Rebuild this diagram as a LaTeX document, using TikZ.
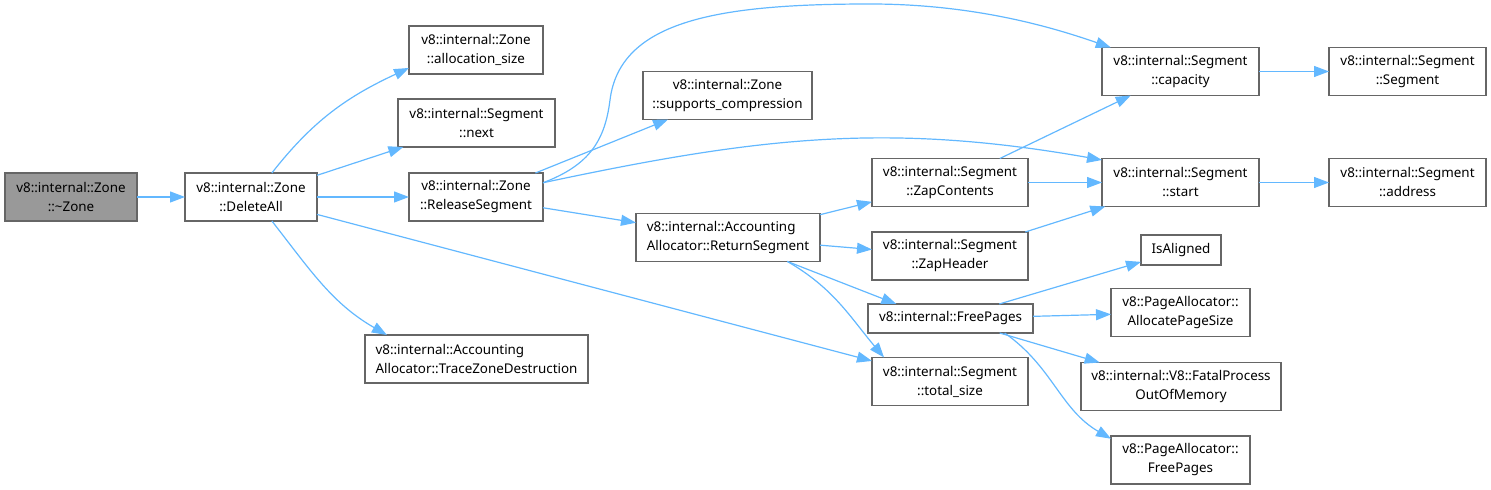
\documentclass[tikz,border=0pt]{standalone}
\usepackage{fontspec}
\setmainfont{Noto Sans}
\usepackage{xcolor}
\usepackage{tikz}
\usetikzlibrary{arrows.meta}
\definecolor{edgeblue}{HTML}{63B8FF}
\definecolor{boxline}{HTML}{666666}
\definecolor{rootfill}{HTML}{999999}
\begin{document}
\begin{tikzpicture}[x=0.5pt,y=-0.5pt,inner sep=1pt,outer sep=0pt,
  fn/.style={draw=boxline,line width=0.75pt,fill=white,align=center,font=\fontsize{6.7}{9.5}\selectfont,minimum height=24pt},
  fnl/.style={fn,align=left},
  call/.style={draw=edgeblue,line width=0.6pt,-{Triangle[length=7.5pt,width=5.5pt]}}]
\useasboundingbox (0,0) rectangle (1491,490);
\node[fn,fill=rootfill,minimum width=66pt] (zone) at (71,197) {v8::internal::Zone\\::\textasciitilde Zone};
\node[fn,minimum width=66pt] (deleteall) at (251,197) {v8::internal::Zone\\::DeleteAll};
\node[fn,minimum width=67pt] (allocsize) at (476,50) {v8::internal::Zone\\::allocation\_size};
\node[fn,minimum width=78.5pt] (segnext) at (476.5,123) {v8::internal::Segment\\::next};
\node[fn,minimum width=67pt] (releaseseg) at (476,197) {v8::internal::Zone\\::ReleaseSegment};
\node[fnl,minimum width=111.5pt] (tracezone) at (476.5,359) {v8::internal::Accounting\\Allocator::TraceZoneDestruction};
\node[fn,minimum width=84.5pt] (supportscomp) at (727.5,95.5) {v8::internal::Zone\\::supports\_compression};
\node[fnl,minimum width=92pt] (returnseg) at (728,237.5) {v8::internal::Accounting\\Allocator::ReturnSegment};
\node[fn,minimum width=78pt] (zapcontents) at (950,182.5) {v8::internal::Segment\\::ZapContents};
\node[fn,minimum width=78pt] (zapheader) at (950,256) {v8::internal::Segment\\::ZapHeader};
\node[fn,minimum width=82.5pt,minimum height=14.5pt] (freepages) at (950.5,318.5) {v8::internal::FreePages};
\node[fn,minimum width=78pt] (totalsize) at (950,381.5) {v8::internal::Segment\\::total\_size};
\node[fn,minimum width=78.5pt] (capacity) at (1180.5,71.5) {v8::internal::Segment\\::capacity};
\node[fn,minimum width=78.5pt] (segstart) at (1180.5,182.5) {v8::internal::Segment\\::start};
\node[fn,minimum width=40pt,minimum height=15pt] (isaligned) at (1181,250) {IsAligned};
\node[fn,minimum width=69.5pt] (allocpagesize) at (1180.5,312.5) {v8::PageAllocator::\\AllocatePageSize};
\node[fn,minimum width=100pt] (fatal) at (1181,386.5) {v8::internal::V8::FatalProcess\\OutOfMemory};
\node[fn,minimum width=69.5pt] (pafreepages) at (1180.5,460) {v8::PageAllocator::\\FreePages};
\node[fn,minimum width=78.5pt] (segctor) at (1407.5,71.5) {v8::internal::Segment\\::Segment};
\node[fn,minimum width=78.5pt] (address) at (1407.5,182.5) {v8::internal::Segment\\::address};
\draw[call] (zone) -- (deleteall);
\draw[call] (deleteall.49) to[out=52,in=205] (allocsize.195);
\draw[call] (deleteall) -- (segnext);
\draw[call] (deleteall) -- (releaseseg);
\draw[call] (deleteall.-49) to[out=-52,in=150] (tracezone.165);
\draw[call] (deleteall) -- (totalsize);
\draw[call] (releaseseg.12) .. controls (590,165) and (605,140) .. (610,100) .. controls (620,20) and (720,4) .. (870,4) .. controls (980,4) and (1060,30) .. (capacity.161);
\draw[call] (releaseseg) -- (supportscomp);
\draw[call] (releaseseg.12) to[out=12,in=170] (segstart.164);
\draw[call] (releaseseg) -- (returnseg);
\draw[call] (returnseg) -- (zapcontents);
\draw[call] (returnseg) -- (zapheader);
\draw[call] (returnseg.-22) -- (freepages.165);
\draw[call] (returnseg.-22) to[out=-30,in=130] (totalsize.160);
\draw[call] (zapcontents) -- (capacity);
\draw[call] (zapcontents) -- (segstart);
\draw[call] (zapheader) -- (segstart);
\draw[call] (freepages) -- (isaligned);
\draw[call] (freepages) -- (allocpagesize);
\draw[call] (freepages) -- (fatal);
\draw[call] (freepages.-15) to[out=-35,in=150] (pafreepages.163);
\draw[call] (capacity) -- (segctor);
\draw[call] (segstart) -- (address);
\end{tikzpicture}
\end{document}
